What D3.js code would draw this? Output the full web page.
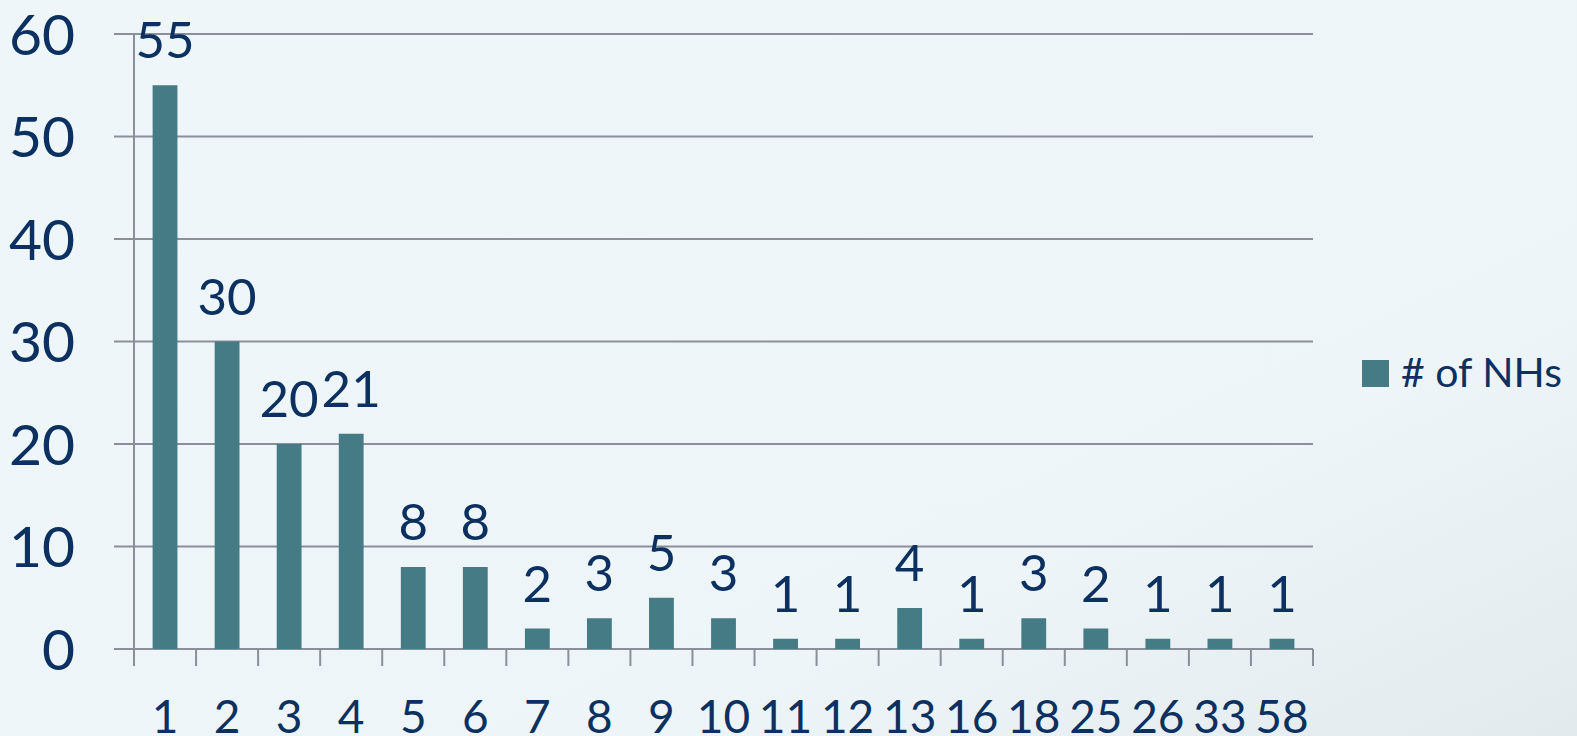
<!DOCTYPE html>
<html>
<head>
<meta charset="utf-8">
<script src="https://cdn.jsdelivr.net/npm/d3@7"></script>
<style>
  html, body { margin: 0; padding: 0; }
  body { width: 1577px; height: 736px; overflow: hidden; }
  svg { display: block; font-family: Lato, "Open Sans", sans-serif; }
</style>
</head>
<body>
<svg id="chart" width="1577" height="736"></svg>
<script>
// Chart data
const categories = ['1', '2', '3', '4', '5', '6', '7', '8', '9', '10', '11', '12', '13', '16', '18', '25', '26', '33', '58']
const counts = [55, 30, 20, 21, 8, 8, 2, 3, 5, 3, 1, 1, 4, 1, 3, 2, 1, 1, 1]
const yTicks = [0, 10, 20, 30, 40, 50, 60]
const seriesName = '# of NHs'

const textColor = '#0c3160'
const barColor = '#457b84'
const gridColor = '#8b8f9c'

const svg = d3.select('#chart')

// Background gradient
const defs = svg.append('defs')
const grad = defs.append('linearGradient')
  .attr('id', 'bg')
  .attr('x1', '0').attr('y1', '0')
  .attr('x2', '1').attr('y2', '1')
grad.append('stop').attr('offset', '0%').attr('stop-color', '#eff6f9')
grad.append('stop').attr('offset', '70%').attr('stop-color', '#edf5f8')
grad.append('stop').attr('offset', '100%').attr('stop-color', '#e2eaed')

svg.append('rect')
  .attr('width', 1577)
  .attr('height', 736)
  .attr('fill', 'url(#bg)')

// Plot area
const plotLeft = 134, plotRight = 1313, plotTop = 34, plotBottom = 649

const x = d3.scaleBand()
  .domain(categories)
  .range([plotLeft, plotRight])
  .padding(0)

const y = d3.scaleLinear()
  .domain([0, 60])
  .range([plotBottom, plotTop])

// Gridlines, extended left as tick marks
svg.append('g')
  .selectAll('line')
  .data(yTicks)
  .join('line')
  .attr('x1', plotLeft - 20)
  .attr('x2', plotRight)
  .attr('y1', d => y(d))
  .attr('y2', d => y(d))
  .attr('stroke', gridColor)
  .attr('stroke-width', 2)

// Y axis line
svg.append('line')
  .attr('x1', plotLeft).attr('x2', plotLeft)
  .attr('y1', plotTop).attr('y2', plotBottom)
  .attr('stroke', gridColor)
  .attr('stroke-width', 2)

// Y tick labels
svg.append('g')
  .selectAll('text')
  .data(yTicks)
  .join('text')
  .attr('x', 75)
  .attr('y', d => y(d))
  .attr('dy', '0.36em')
  .attr('text-anchor', 'end')
  .attr('font-size', 57)
  .attr('fill', textColor)
  .text(d => d)

// X tick marks on band edges
const edges = categories.map(c => x(c)).concat([plotRight])
svg.append('g')
  .selectAll('line')
  .data(edges)
  .join('line')
  .attr('x1', d => d).attr('x2', d => d)
  .attr('y1', plotBottom).attr('y2', plotBottom + 17)
  .attr('stroke', gridColor)
  .attr('stroke-width', 2)

// Bars
const barW = x.bandwidth() * 0.4
svg.append('g')
  .selectAll('rect')
  .data(counts)
  .join('rect')
  .attr('x', (d, i) => x(categories[i]) + (x.bandwidth() - barW) / 2)
  .attr('y', d => y(d))
  .attr('width', barW)
  .attr('height', d => plotBottom - y(d))
  .attr('fill', barColor)

// Value labels
svg.append('g')
  .selectAll('text')
  .data(counts)
  .join('text')
  .attr('x', (d, i) => x(categories[i]) + x.bandwidth() / 2)
  .attr('y', d => y(d) - 27)
  .attr('text-anchor', 'middle')
  .attr('font-size', 51)
  .attr('fill', textColor)
  .text(d => d)

// X labels
svg.append('g')
  .selectAll('text')
  .data(categories)
  .join('text')
  .attr('x', d => x(d) + x.bandwidth() / 2)
  .attr('y', 733)
  .attr('text-anchor', 'middle')
  .attr('font-size', 46)
  .attr('fill', textColor)
  .text(d => d)

// Legend
const legend = svg.append('g').attr('transform', 'translate(1362,360)')
legend.append('rect')
  .attr('width', 27)
  .attr('height', 27)
  .attr('fill', barColor)
legend.append('text')
  .attr('x', 39)
  .attr('y', 27)
  .attr('font-size', 41)
  .attr('fill', textColor)
  .text(seriesName)
</script>
</body>
</html>
